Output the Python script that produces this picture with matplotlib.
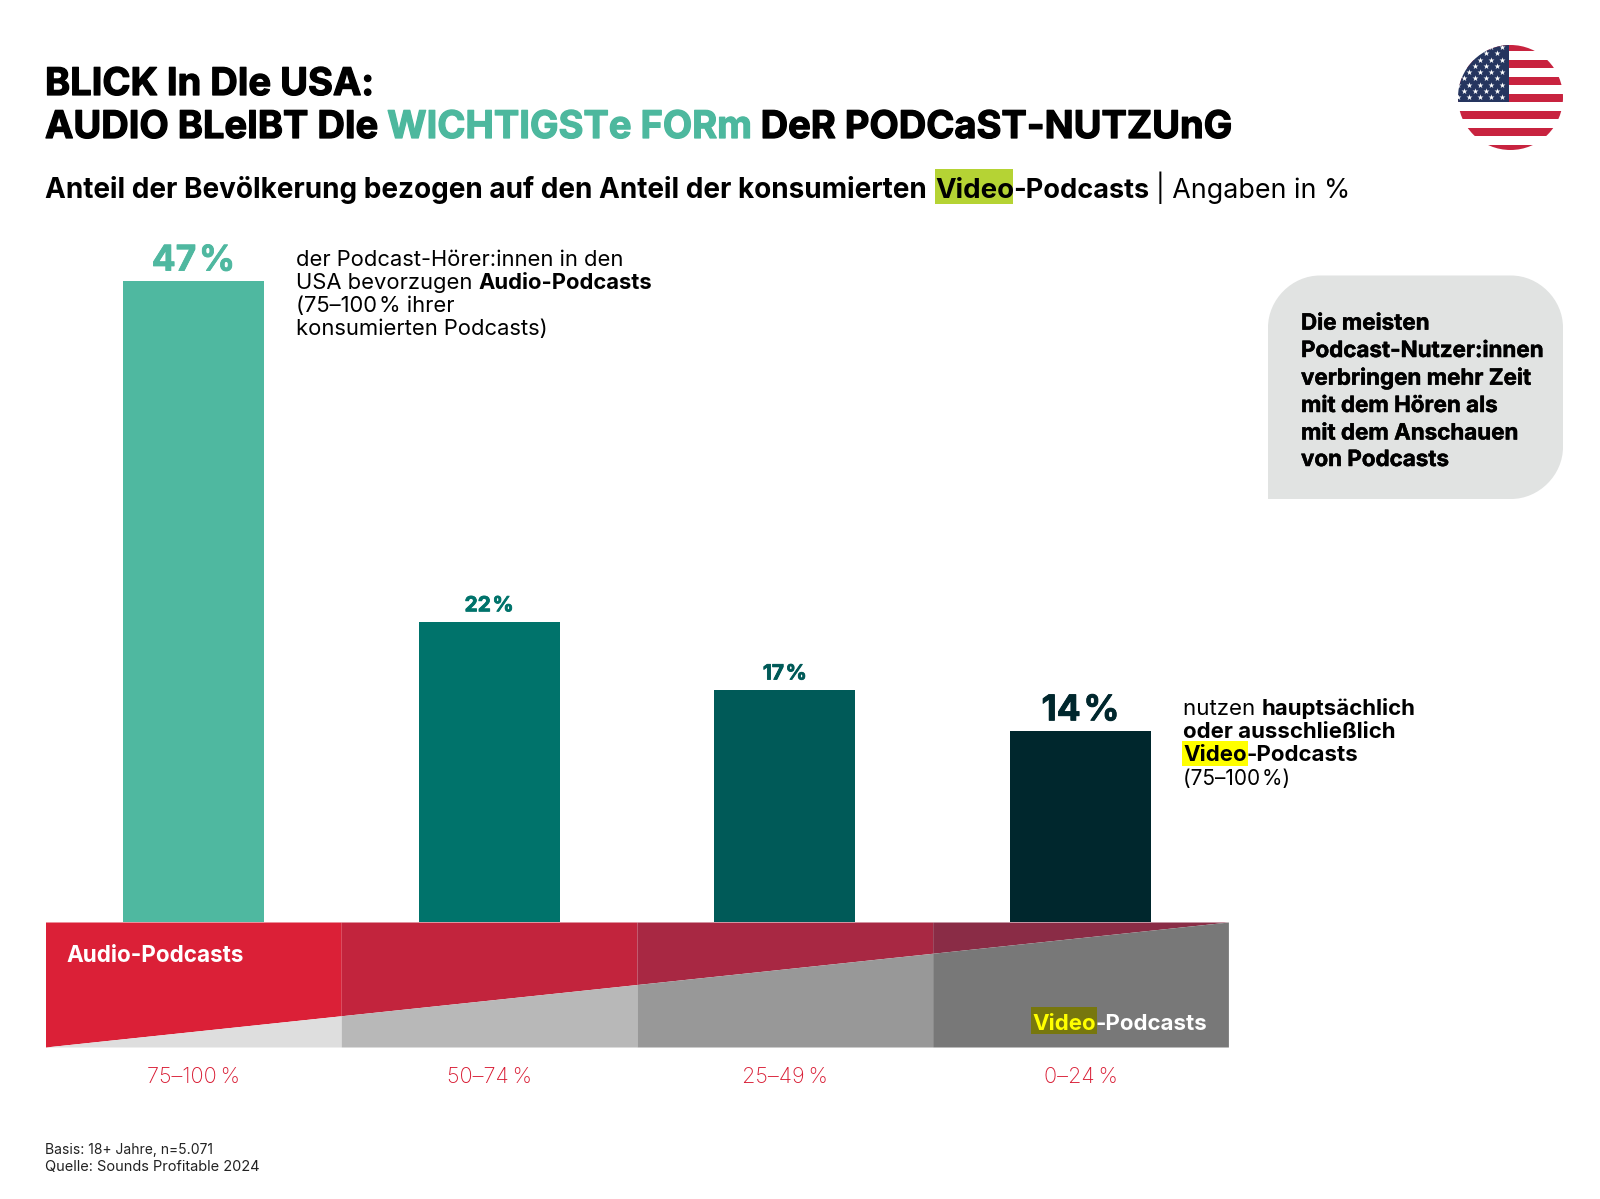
import numpy as np
import matplotlib
matplotlib.use("Agg")
from matplotlib import pyplot as plt
from matplotlib.patches import Rectangle, Circle, PathPatch
from matplotlib.path import Path
import matplotlib.patheffects as pe

plt.rcParams['font.family'] = ['Inter', 'DejaVu Sans']

# chart values
ranges = ["75–100\u2009%", "50–74\u2009%", "25–49\u2009%", "0–24\u2009%"]
shares = [47, 22, 17, 14]
value_labels = ["47\u200a%", "22\u200a%", "17\u200a%", "14\u200a%"]
video_edges = [0.0, 0.25, 0.5, 0.75, 1.0]

bar_colors = ["#4FB8A0", "#00736B", "#005A58", "#00272D"]
red_colors = ["#DB2037", "#C2243D", "#A82843", "#8A2C46"]
gray_colors = ["#DEDEDE", "#B8B8B8", "#989898", "#787878"]
label_sizes = [25.5, 15, 15, 25.5]

W, H = 1600, 1199
LEFT, RIGHT, BASE, BOTTOM = 45.5, 1228.4, 922, 1047
PX_PER_PCT = 13.63
YMAX = 50

fig = plt.figure(figsize=(16, 11.99), dpi=100, facecolor="white")


def px_axes(x0, y0, x1, y1, **kw):
    return fig.add_axes([x0 / W, 1 - y1 / H, (x1 - x0) / W, (y1 - y0) / H], **kw)


# full page layer in pixel coordinates for the text blocks
page = px_axes(0, 0, W, H)
page.set_xlim(0, W)
page.set_ylim(H, 0)
page.axis("off")

# bars
ax = px_axes(LEFT, BASE - PX_PER_PCT * YMAX, RIGHT, BASE)
ax.patch.set_alpha(0)
ax.bar(range(4), shares, width=0.477, color=bar_colors)
ax.set_xlim(-0.5, 3.5)
ax.set_ylim(0, YMAX)
ax.axis("off")
for i, v in enumerate(shares):
    lab = ax.annotate(value_labels[i], xy=(i, v), xytext=(0, 7.8),
                      textcoords="offset points", ha="center", va="baseline",
                      fontsize=label_sizes[i], fontweight="bold", color=bar_colors[i])
    lab.set_path_effects([pe.withStroke(linewidth=0.6, foreground=bar_colors[i])])

# band below the bars, split by the rising video share
band = px_axes(LEFT, BASE, RIGHT, BOTTOM)
band.set_xlim(-0.5, 3.5)
band.set_ylim(0, 1)
for i in range(4):
    x0, x1 = i - 0.5, i + 0.5
    y0, y1 = video_edges[i], video_edges[i + 1]
    band.fill_between([x0, x1], [y0, y1], 1, color=red_colors[i], lw=0)
    band.fill_between([x0, x1], 0, [y0, y1], color=gray_colors[i], lw=0)
for s in band.spines.values():
    s.set_visible(False)
band.set_yticks([])
band.set_xticks(range(4), ranges, color="#D81A32", fontsize=15.6, fontweight="light")
band.tick_params(axis="x", length=0, pad=14.5)

fig.canvas.draw()
renderer = fig.canvas.get_renderer()


def text_width(s, size, weight):
    # the x pair keeps leading and trailing blanks in the measurement
    a = page.text(0, 0, "x" + s + "x", fontsize=size, fontweight=weight)
    b = page.text(0, 0, "xx", fontsize=size, fontweight=weight)
    w = a.get_window_extent(renderer).width - b.get_window_extent(renderer).width
    a.remove()
    b.remove()
    return w


def runs(x, y, parts, size, color="black", target=page, effects=None):
    # parts are (text, weight) or (text, weight, color)
    for p in parts:
        s, weight = p[0], p[1]
        c = p[2] if len(p) > 2 else color
        t = target.text(x, y, s, fontsize=size, fontweight=weight, color=c, va="baseline", ha="left")
        if effects:
            t.set_path_effects([pe.withStroke(linewidth=effects, foreground=c)])
        x += text_width(s, size, weight)
    return x


def marked(x, y0, y1, word, size, color, target=page):
    # highlight box sized to the word that follows
    target.add_patch(Rectangle((x - 1, y0), text_width(word, size, "bold") + 2, y1 - y0, color=color, lw=0))


TEAL = "#4DB89E"

# heading
runs(45, 95, [("BLICK In DIe USA:", "bold")], 27.4, effects=0.9)
runs(45, 138, [("AUDIO BLeIBT DIe ", "bold"), ("WICHTIGSTe FORm", "bold", TEAL),
               (" DeR PODCaST-NUTZUnG", "bold")], 27.4, effects=0.9)

# subheading with marked word
page.add_patch(Rectangle((934.7, 169), 78.5, 35, color="#B5D334", lw=0))
runs(45, 198, [("Anteil der Bevölkerung bezogen auf den Anteil der konsumierten", "bold")], 20.1)
runs(935.5, 198, [("Video", "bold")], 19.9)
runs(1013, 198, [("-Podcasts", "bold")], 19.5)
runs(1156, 198, [("| Angaben in %", "normal")], 19.3)

# note next to the audio bar
for y, parts in zip([265.5, 289, 312, 335.5],
                    [[("der Podcast-Hörer:innen in den", "normal")],
                     [("USA bevorzugen ", "normal"), ("Audio-Podcasts", "bold")],
                     [("(75–100\u200a% ihrer", "normal")],
                     [("konsumierten Podcasts)", "normal")]]):
    runs(296, y, parts, 15.8)

# note next to the video bar
marked(1183, 741, 766, "Video", 16, "#FFFF00")
for y, parts, size in zip([714.7, 738, 761.2, 784.5],
                          [[("nutzen ", "normal"), ("hauptsächlich", "bold")],
                           [("oder ausschließlich", "bold")],
                           [("Video", "bold"), ("-Podcasts", "bold")],
                           [("(75–100\u200a%)", "normal")]],
                          [16, 16, 16, 15]):
    runs(1183, y, parts, size)

# callout, the lower left corner stays square
bx0, by0, bx1, by1, r = 1268, 275.5, 1563, 499, 52
k = r * 0.54
verts = [(bx0, by1), (bx0, by0 + r), (bx0, by0 + r - k), (bx0 + r - k, by0), (bx0 + r, by0),
         (bx1 - r, by0), (bx1 - r + k, by0), (bx1, by0 + r - k), (bx1, by0 + r),
         (bx1, by1 - r), (bx1, by1 - r + k), (bx1 - r + k, by1), (bx1 - r, by1),
         (bx0, by1)]
codes = [Path.MOVETO, Path.LINETO, Path.CURVE4, Path.CURVE4, Path.CURVE4,
         Path.LINETO, Path.CURVE4, Path.CURVE4, Path.CURVE4,
         Path.LINETO, Path.CURVE4, Path.CURVE4, Path.CURVE4,
         Path.CLOSEPOLY]
page.add_patch(PathPatch(Path(verts, codes), facecolor="#E1E3E2", lw=0))
callout = ["Die meisten", "Podcast-Nutzer:innen", "verbringen mehr Zeit",
           "mit dem Hören als", "mit dem Anschauen", "von Podcasts"]
for y, line in zip([329.6, 357, 384.7, 412, 439.5, 466], callout):
    runs(1301, y, [(line, "bold")], 16.1, effects=0.35)

# source lines
runs(45, 1154, [("Basis: 18+ Jahre, n=5.071", "normal")], 10, "#222222")
runs(45, 1171, [("Quelle: Sounds Profitable 2024", "normal")], 10.5, "#222222")

# band captions, drawn above the band
over = px_axes(0, 0, W, H)
over.set_xlim(0, W)
over.set_ylim(H, 0)
over.axis("off")
over.patch.set_alpha(0)
runs(66.3, 962, [("Audio-Podcasts", "bold")], 16.2, "white", target=over)
marked(1032, 1007, 1034, "Video", 16, "#77770E", target=over)
runs(1032, 1029.6, [("Video", "bold", "#FFFF00"), ("-Podcasts", "bold")], 16, "white", target=over)

# round flag
cx, cy, rad = 1510.5, 97.5, 52.5
flag = px_axes(cx - rad, cy - rad, cx + rad, cy + rad)
flag.set_xlim(0, 105)
flag.set_ylim(105, 0)
flag.axis("off")
clip = Circle((52.5, 52.5), 52.5, transform=flag.transData)
stripe_h = 8.5
for k in range(0, 14, 2):
    p = flag.add_patch(Rectangle((0, -2 + k * stripe_h), 105, stripe_h - 0.2, color="#C8233F", lw=0))
    p.set_clip_path(clip)
p = flag.add_patch(Rectangle((0, 0), 51, 57, color="#25355F", lw=0))
p.set_clip_path(clip)
star_x, star_y = [], []
for row in range(9):
    for col in range(5):
        sx = col * 11 + (0 if row % 2 == 0 else 5.5)
        if sx < 49:
            star_x.append(sx)
            star_y.append(2 + row * 6.25)
stars = flag.scatter(star_x, star_y, marker="*", s=20, color="white", lw=0)
stars.set_clip_path(clip)

fig.savefig("out.png", dpi=100, facecolor="white")
